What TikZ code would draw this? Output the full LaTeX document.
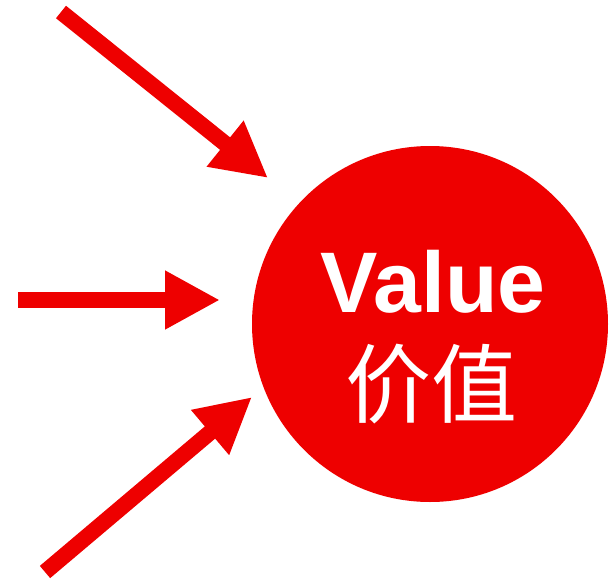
\documentclass[tikz,border=0pt]{standalone}
\usepackage{fontspec}
\newfontfamily\lsans{Liberation Sans}
\newfontfamily\cjk{Noto Sans CJK SC}
\usetikzlibrary{arrows.meta}
\definecolor{vred}{RGB}{238,0,0}
\tikzset{
  inarrow/.style={draw=vred, line width=16pt,
    -{Triangle[length=55pt,width=55pt,fill=vred,color=vred]}},
}
\begin{document}
\begin{tikzpicture}[x=1pt,y=-1pt]
\useasboundingbox (0,0) rectangle (614,579);
\node (circ) [circle, fill=vred, minimum size=356pt, inner sep=0pt] at (430,324) {};
\node (val) [anchor=base, text=white, inner sep=0pt, font=\lsans\bfseries\fontsize{86pt}{86pt}\selectfont] at (433,312) {Value};
\node (cn) [text=white, inner sep=0pt, font=\cjk\fontsize{86pt}{86pt}\selectfont] at (431,384) {价值};
\coordinate (s1) at (61,12);
\coordinate (t1) at (268,178);
\coordinate (s2) at (18,300);
\coordinate (t2) at (220,300);
\coordinate (s3) at (45,572);
\coordinate (t3) at (252,397);
\draw[inarrow] (s1) -- (t1);
\draw[inarrow] (s2) -- (t2);
\draw[inarrow] (s3) -- (t3);
\end{tikzpicture}
\end{document}
